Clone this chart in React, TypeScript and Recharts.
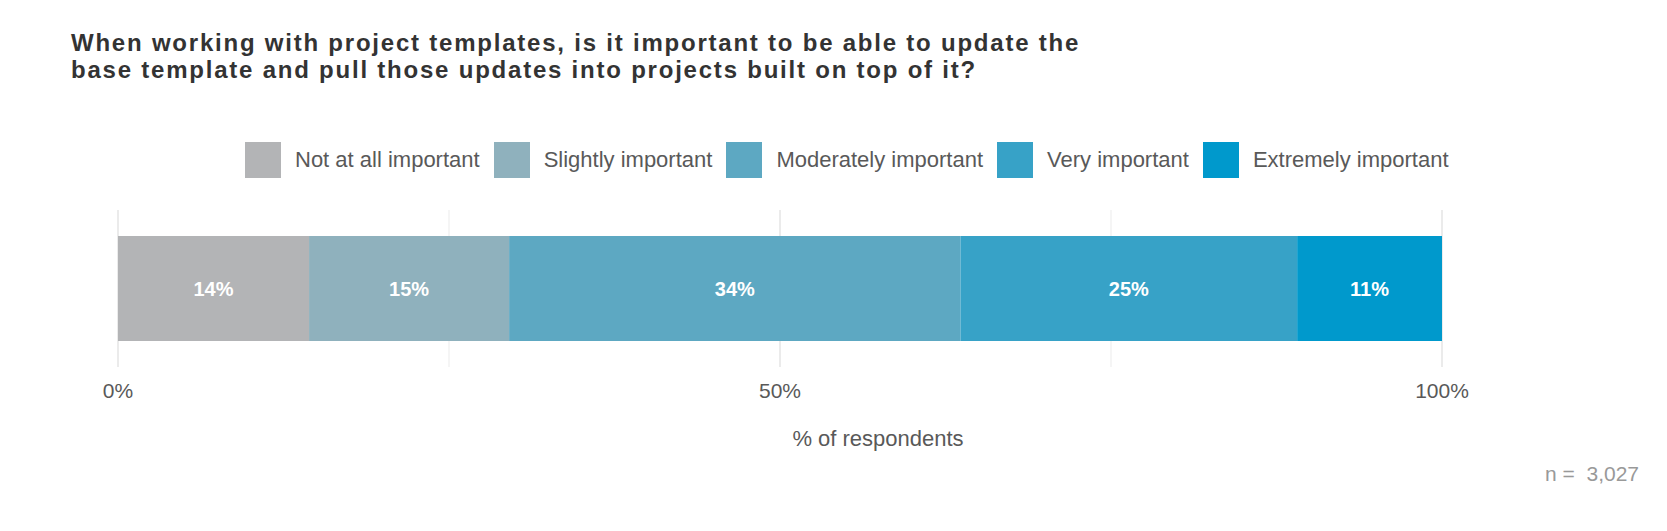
import { BarChart, Bar, XAxis, YAxis, CartesianGrid, Legend, LabelList } from "recharts";

const categories = [
  "Not at all important",
  "Slightly important",
  "Moderately important",
  "Very important",
  "Extremely important",
];
const shares = [14.43, 15.11, 34.09, 25.43, 10.94];
const colors = ["#b3b4b6", "#8fb1bd", "#5da8c2", "#37a2c7", "#0099cc"];
const xTicks = [0, 25, 50, 75, 100];
const xTickLabels = ["0%", "", "50%", "", "100%"];
const majorTicks = [0, 50, 100];

const title = [
  "When working with project templates, is it important to be able to update the",
  "base template and pull those updates into projects built on top of it?",
];
const axisTitle = "% of respondents";
const sampleNote = "n =  3,027";

const FONT = "'Liberation Sans', Arial, sans-serif";

const row: Record<string, number | string> = { question: "template updates" };
categories.forEach((c, i) => {
  row[c] = shares[i];
});
const data = [row];

function LegendBox({ payload }: any) {
  const items = [...(payload || [])].sort(
    (a: any, b: any) => categories.indexOf(a.value) - categories.indexOf(b.value)
  );
  return (
    <div style={{ display: "flex", alignItems: "center", fontFamily: FONT }}>
      {items.map((p: any, i: number) => (
        <div key={p.value} style={{ display: "flex", alignItems: "center", marginLeft: i === 0 ? 0 : 14 }}>
          <div style={{ width: 36, height: 36, background: p.color, marginRight: 14 }} />
          <span style={{ fontSize: 22, color: "#595959", whiteSpace: "nowrap" }}>{p.value}</span>
        </div>
      ))}
    </div>
  );
}

export default function App() {
  return (
    <div style={{ position: "relative", width: 1667, height: 531, fontFamily: FONT, background: "#fff" }}>
      <style>{"body{margin:0}"}</style>
      <BarChart
        width={1667}
        height={531}
        layout="vertical"
        data={data}
        margin={{ top: 210, right: 225, bottom: 124, left: 118 }}
      >
        <CartesianGrid
          horizontal={false}
          vertical={(props: any) => {
            const major = majorTicks.some((t) => Math.abs(props.x1 - (118 + (t / 100) * 1324)) < 2);
            return (
              <line
                key={`g-${props.index}`}
                x1={props.x1}
                x2={props.x2}
                y1={props.y1}
                y2={props.y2}
                stroke="#ebebeb"
                strokeWidth={major ? 2 : 1}
              />
            );
          }}
        />
        <XAxis
          type="number"
          domain={[0, 100]}
          ticks={xTicks}
          tickFormatter={(v: number) => xTickLabels[xTicks.indexOf(v)]}
          height={40}
          tickSize={0}
          tickMargin={16}
          axisLine={false}
          tickLine={false}
          tick={{ fill: "#595959", fontSize: 21, fontFamily: FONT }}
          interval={0}
        />
        <YAxis type="category" dataKey="question" hide />
        <Legend
          layout="horizontal"
          verticalAlign="middle"
          align="center"
          content={<LegendBox />}
          wrapperStyle={{ top: 142, left: 245, width: "auto" }}
        />
        {categories.map((c, i) => (
          <Bar
            key={c}
            dataKey={c}
            stackId="a"
            fill={colors[i]}
            barSize={105}
            isAnimationActive={false}
          >
            <LabelList
              dataKey={c}
              position="center"
              formatter={(v: any) => `${Math.round(Number(v))}%`}
              fill="#ffffff"
              fontSize={20}
              fontWeight="bold"
              fontFamily={FONT}
            />
          </Bar>
        ))}
      </BarChart>
      <svg
        width={1667}
        height={531}
        style={{ position: "absolute", left: 0, top: 0, pointerEvents: "none" }}
      >
        {title.map((line, i) => (
          <text
            key={i}
            x={71}
            y={51 + i * 27}
            fontSize={24}
            fontWeight="bold"
            fill="#333333"
            fontFamily={FONT}
            letterSpacing={1.78}
          >
            {line}
          </text>
        ))}
        <text x={878} y={446} textAnchor="middle" fontSize={22} fill="#595959" fontFamily={FONT}>
          {axisTitle}
        </text>
        <text x={1639} y={481} textAnchor="end" fontSize={21} fill="#999999" fontFamily={FONT} xmlSpace="preserve">
          {sampleNote}
        </text>
      </svg>
    </div>
  );
}
